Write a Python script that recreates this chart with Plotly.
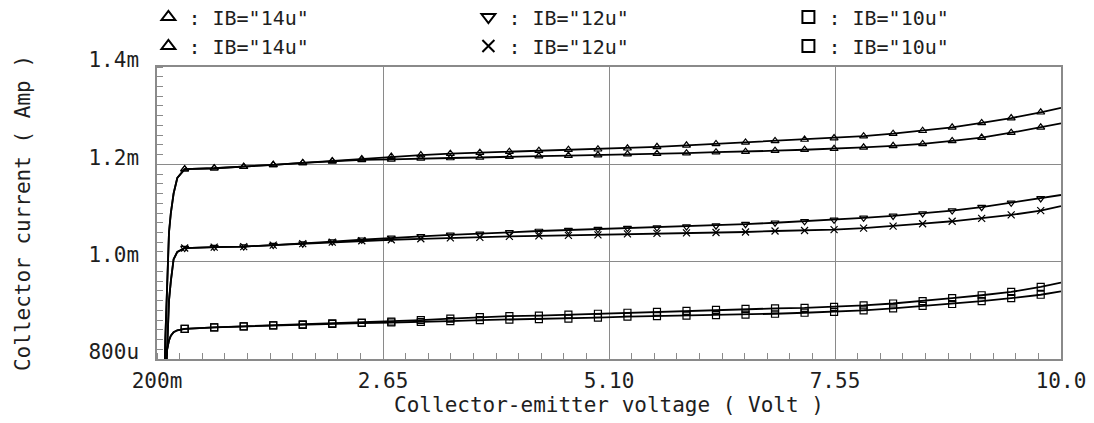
import plotly.graph_objects as go

# Collector-emitter voltage (V)
vce = [0.20, 0.27, 0.29, 0.31, 0.33, 0.35, 0.38, 0.42,
       0.50, 0.82, 1.14, 1.46, 1.78, 2.10, 2.42, 2.74, 3.06, 3.38,
       3.70, 4.02, 4.34, 4.66, 4.98, 5.30, 5.62, 5.94, 6.26, 6.58,
       6.90, 7.22, 7.54, 7.86, 8.18, 8.50, 8.82, 9.14, 9.46, 9.78,
       10.00]

# Collector current (mA)
ic_14u_a = [0.30, 0.65, 0.84, 0.97, 1.06, 1.10, 1.14, 1.172,
            1.190, 1.192, 1.195, 1.199, 1.203, 1.207, 1.211, 1.216, 1.219, 1.222,
            1.224, 1.226, 1.228, 1.230, 1.231, 1.233, 1.236, 1.239, 1.242, 1.245,
            1.248, 1.251, 1.254, 1.258, 1.263, 1.269, 1.276, 1.285, 1.295, 1.307,
            1.316]
ic_14u_b = [0.30, 0.65, 0.84, 0.97, 1.06, 1.10, 1.14, 1.172,
            1.190, 1.192, 1.195, 1.199, 1.203, 1.206, 1.209, 1.210, 1.212, 1.213,
            1.214, 1.216, 1.217, 1.218, 1.219, 1.221, 1.222, 1.223, 1.225, 1.226,
            1.228, 1.230, 1.232, 1.235, 1.238, 1.242, 1.248, 1.255, 1.265, 1.276,
            1.284]
ic_12u_a = [0.30, 0.60, 0.72, 0.82, 0.92, 0.96, 1.005, 1.020,
            1.028, 1.030, 1.031, 1.034, 1.037, 1.041, 1.045, 1.049, 1.052, 1.055,
            1.057, 1.060, 1.063, 1.065, 1.067, 1.069, 1.070, 1.072, 1.074, 1.077,
            1.080, 1.083, 1.086, 1.090, 1.094, 1.099, 1.105, 1.112, 1.121, 1.130,
            1.137]
ic_12u_b = [0.30, 0.60, 0.72, 0.82, 0.92, 0.96, 1.005, 1.020,
            1.028, 1.030, 1.031, 1.034, 1.037, 1.040, 1.043, 1.045, 1.047, 1.049,
            1.050, 1.052, 1.053, 1.054, 1.055, 1.057, 1.058, 1.059, 1.060, 1.061,
            1.063, 1.064, 1.066, 1.069, 1.073, 1.078, 1.083, 1.089, 1.096, 1.105,
            1.114]
ic_10u_a = [0.30, 0.70, 0.79, 0.82, 0.838, 0.848, 0.855, 0.859,
            0.862, 0.865, 0.867, 0.869, 0.871, 0.873, 0.875, 0.877, 0.880, 0.883,
            0.886, 0.888, 0.889, 0.891, 0.893, 0.895, 0.897, 0.899, 0.901, 0.903,
            0.904, 0.905, 0.907, 0.910, 0.914, 0.919, 0.925, 0.931, 0.938, 0.948,
            0.957]
ic_10u_b = [0.30, 0.70, 0.79, 0.82, 0.838, 0.848, 0.855, 0.859,
            0.862, 0.865, 0.867, 0.869, 0.870, 0.872, 0.874, 0.875, 0.876, 0.878,
            0.880, 0.881, 0.882, 0.883, 0.885, 0.887, 0.888, 0.889, 0.890, 0.891,
            0.893, 0.895, 0.897, 0.900, 0.904, 0.909, 0.913, 0.919, 0.925, 0.932,
            0.939]

series_names = ['IB="14u"', 'IB="12u"', 'IB="10u"',
                'IB="14u"', 'IB="12u"', 'IB="10u"']

x_tickvals = [0.2, 2.65, 5.10, 7.55, 10.0]
x_ticktext = ["200m", "2.65", "5.10", "7.55", "10.0"]
y_tickvals = [0.8, 1.0, 1.2, 1.4]
y_ticktext = ["800u", "1.0m", "1.2m", "1.4m"]

MARK_FIRST = 8   # first marked sample
MARK_LAST = 38   # one past last marked sample

FONT = "DejaVu Sans Mono"
FS = 21
TXT = "#1e1e1e"
GRID = "#8a8a8a"

curves = [ic_14u_a, ic_12u_a, ic_10u_a, ic_14u_b, ic_12u_b, ic_10u_b]
symbols = ["triangle-up-open", "triangle-down-open", "square-open",
           "triangle-up-open", "x-thin-open", "square-open"]

fig = go.Figure()
for ic in curves:
    fig.add_trace(go.Scatter(x=vce, y=ic, mode="lines",
                             line=dict(color="black", width=1.8),
                             showlegend=False, hoverinfo="skip"))
for ic, sym, nm in zip(curves, symbols, series_names):
    fig.add_trace(go.Scatter(x=vce[MARK_FIRST:MARK_LAST], y=ic[MARK_FIRST:MARK_LAST],
                             mode="markers", name=": " + nm,
                             marker=dict(symbol=sym, size=7, color="black",
                                         line=dict(color="black", width=1.2))))

fig.update_layout(
    width=1094, height=423,
    margin=dict(l=157, r=33, t=67, b=64, autoexpand=False),
    paper_bgcolor="white", plot_bgcolor="white",
    font=dict(family=FONT, size=FS, color=TXT),
    legend=dict(orientation="h", x=-0.0095, xanchor="left", y=1.238, yanchor="top",
                entrywidth=275, entrywidthmode="pixels",
                font=dict(family=FONT, size=20, color=TXT),
                itemsizing="constant", bgcolor="rgba(0,0,0,0)",
                tracegroupgap=0),
    xaxis=dict(range=[0.2, 10.0], tickvals=x_tickvals, ticktext=x_ticktext,
               showgrid=True, gridcolor=GRID, gridwidth=1.2,
               showline=True, linecolor=GRID, linewidth=1.5, mirror=True,
               ticks="", zeroline=False, ticklabelstandoff=2,
               minor=dict(tick0=0.2, dtick=0.245, ticks="inside", ticklen=6,
                          tickcolor=GRID, tickwidth=1, showgrid=False),
               title=dict(text="Collector-emitter voltage ( Volt )", standoff=0,
                          font=dict(family=FONT, size=FS, color=TXT))),
    yaxis=dict(range=[0.8, 1.4], tickvals=y_tickvals, ticktext=y_ticktext,
               showgrid=True, gridcolor=GRID, gridwidth=1.2,
               showline=True, linecolor=GRID, linewidth=1.5, mirror=True,
               ticks="", zeroline=False, ticklabelstandoff=12, ticklabelshift=-7,
               minor=dict(tick0=0.8, dtick=0.02, ticks="inside", ticklen=6,
                          tickcolor=GRID, tickwidth=1, showgrid=False),
               title=dict(text="Collector current ( Amp )", standoff=52,
                          font=dict(family=FONT, size=FS, color=TXT))),
)

fig.write_html("out.html")
